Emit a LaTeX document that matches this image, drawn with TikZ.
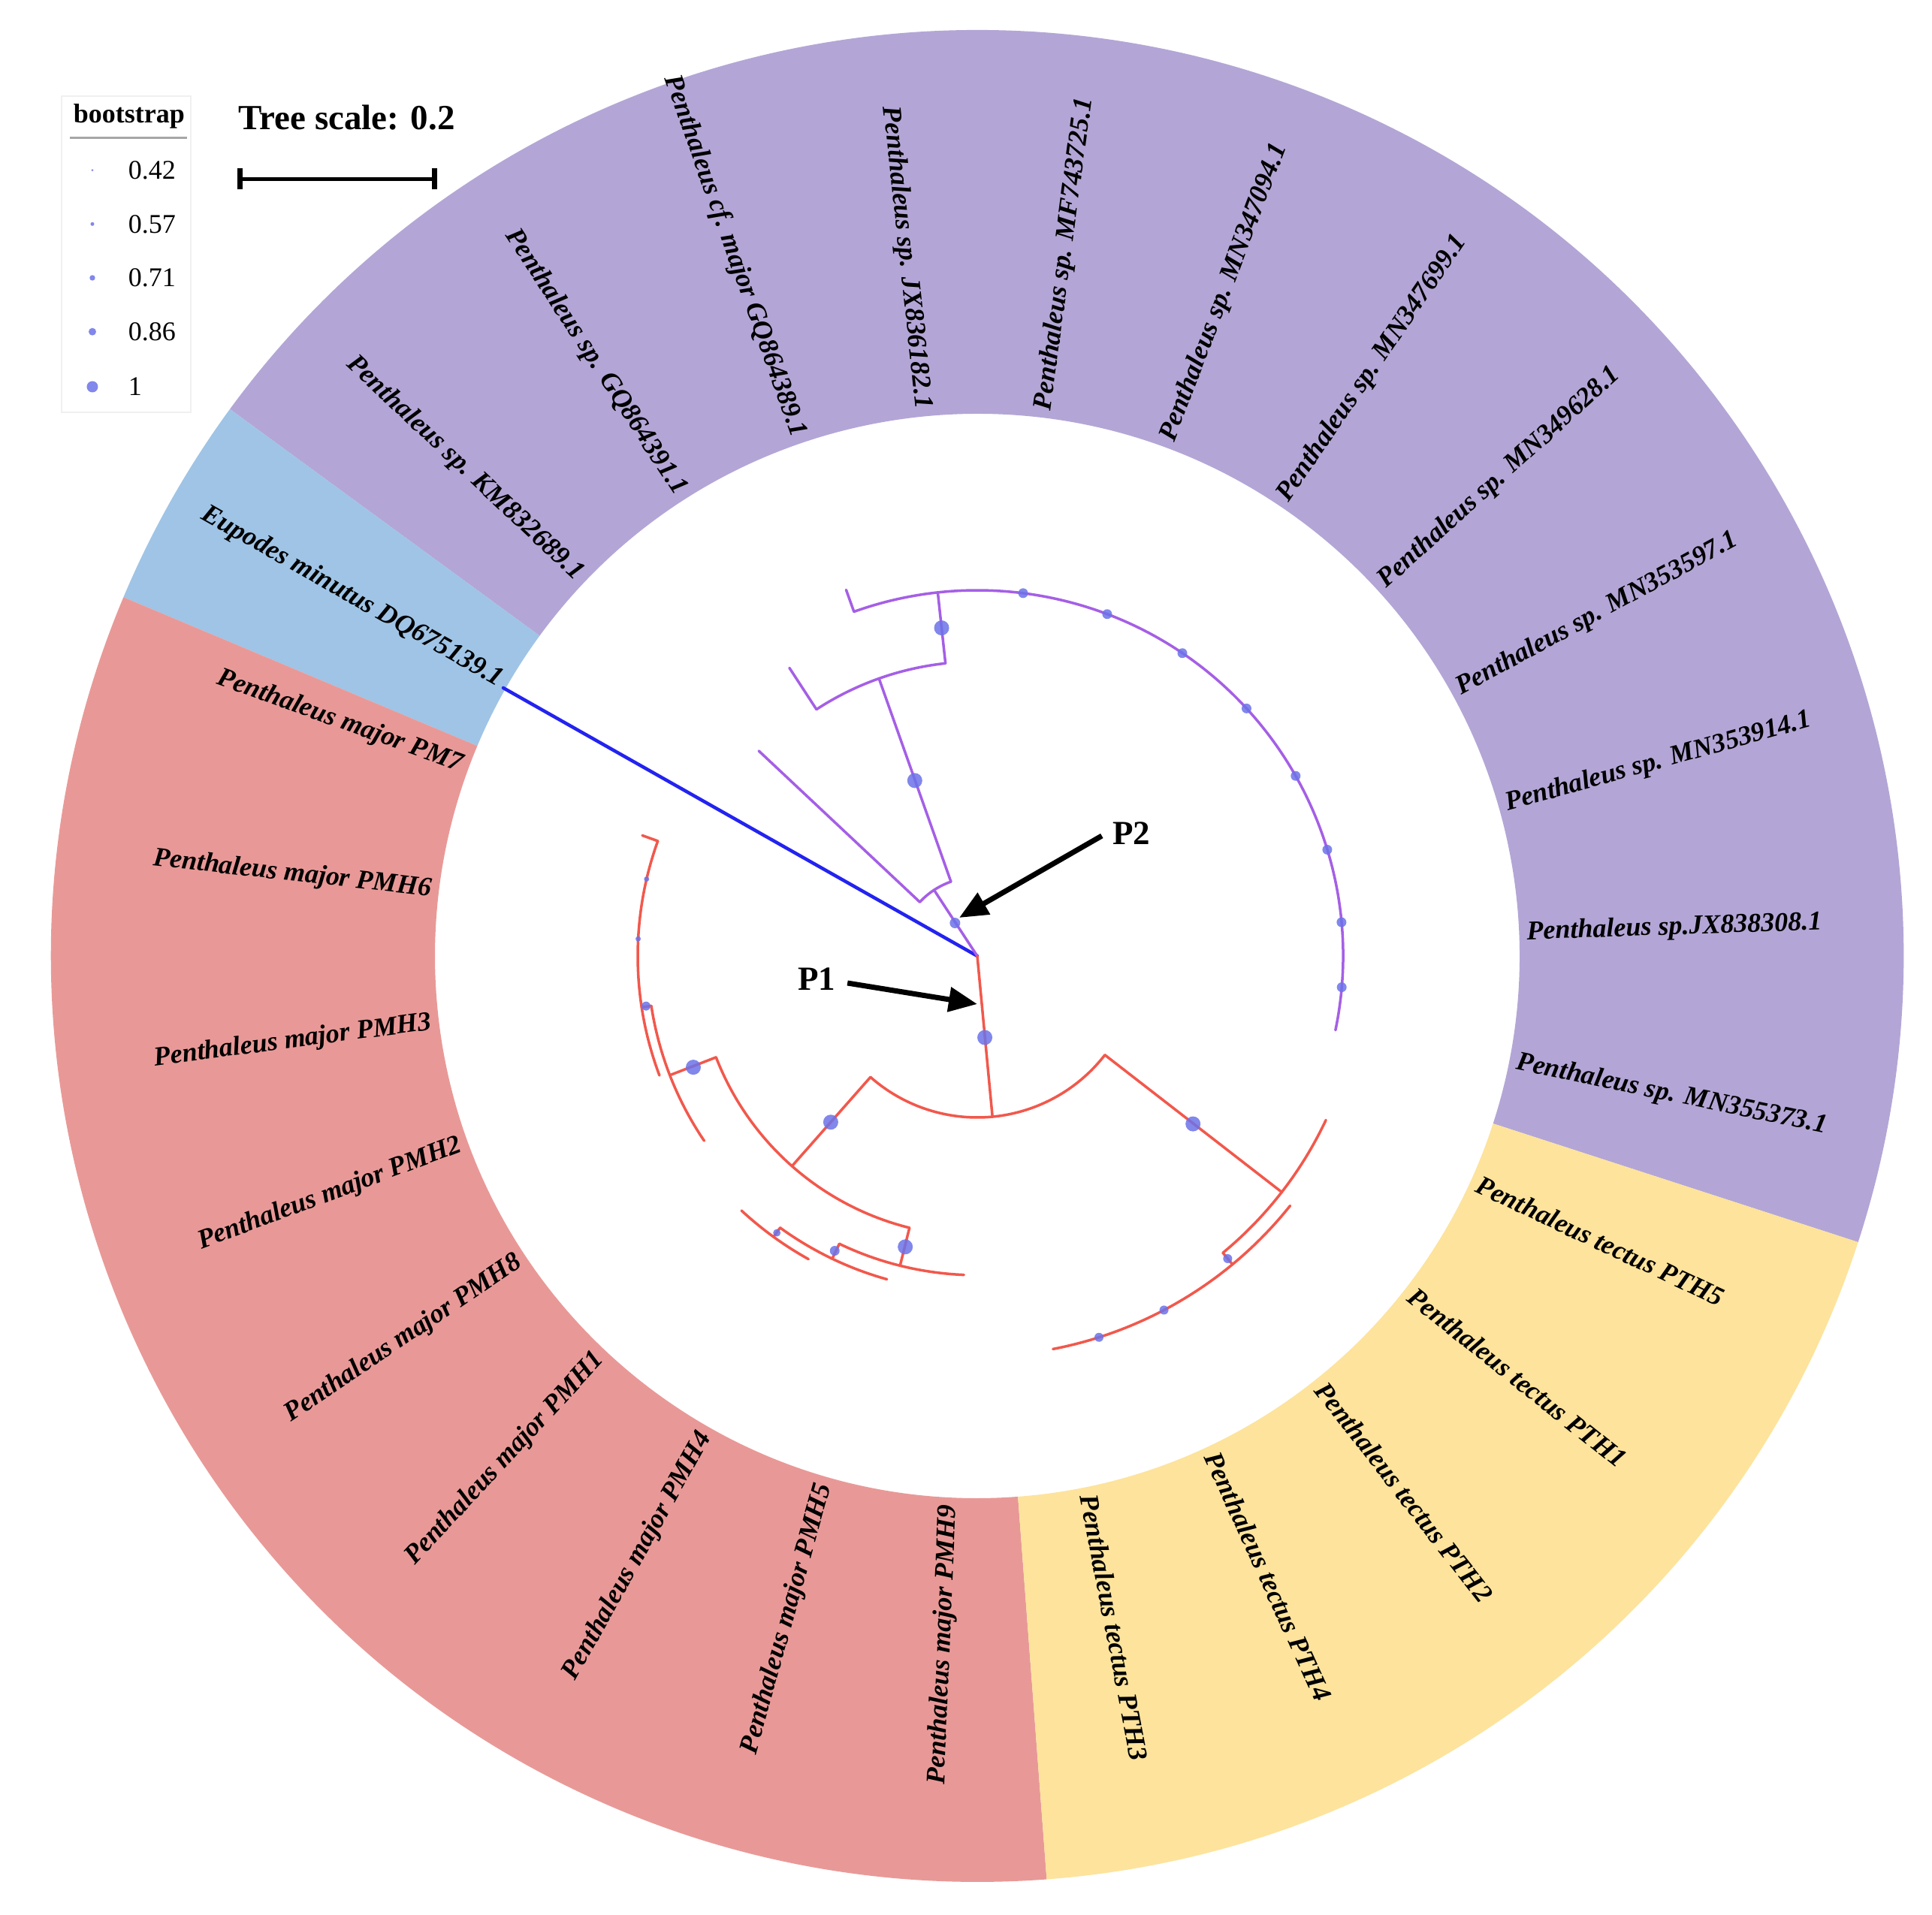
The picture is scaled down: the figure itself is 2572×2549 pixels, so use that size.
\documentclass[tikz,border=0pt]{standalone}
\usepackage{fontspec}
\setmainfont{Liberation Serif}
\usetikzlibrary{arrows.meta}
\definecolor{secP}{RGB}{179,166,214}
\definecolor{secB}{RGB}{159,196,230}
\definecolor{secR}{RGB}{232,153,151}
\definecolor{secY}{RGB}{253,227,156}
\definecolor{lnP}{RGB}{165,95,230}
\definecolor{lnR}{RGB}{242,88,76}
\definecolor{lnB}{RGB}{35,35,240}
\definecolor{dotc}{RGB}{108,114,232}
\newcommand\ringsector[3]{\fill[#1] (#2:722) -- (#2:1233) arc[start angle=#2,end angle=#3,radius=1233pt] -- (#3:722) arc[start angle=#3,end angle=#2,radius=722pt] -- cycle;}
\tikzset{
  lab/.style={font=\fontsize{36}{40}\selectfont\bfseries\itshape, inner sep=0pt},
  trP/.style={draw=lnP, line width=3.5pt, line cap=round},
  trR/.style={draw=lnR, line width=3.5pt, line cap=round},
  trB/.style={draw=lnB, line width=4.5pt, line cap=round},
  bsdot/.style={fill=dotc, fill opacity=0.85, draw=none},
  parrow/.style={line width=7pt, -{Triangle[length=38pt,width=32pt]}},
  ptxt/.style={font=\fontsize{45}{50}\selectfont\bfseries, inner sep=0pt},
  legnum/.style={font=\fontsize{36}{40}\selectfont, inner sep=0pt, anchor=west},
}
\begin{document}
\begin{tikzpicture}[x=1pt,y=1pt]
\useasboundingbox (-1301,-1276) rectangle (1271,1273);
\fill[white] (-1301,-1276) rectangle (1271,1273);
% ring sectors
\ringsector{secP}{-18}{143.8}
\ringsector{secB}{143.8}{157.2}
\ringsector{secR}{157.2}{274.3}
\ringsector{secY}{274.3}{342}
% labels right half
\foreach \a/\t in {
  82.5/{Penthaleus sp. MF743725.1},
  69.2/{Penthaleus sp. MN347094.1},
  55.7/{Penthaleus sp. MN347699.1},
  42.1/{Penthaleus sp. MN349628.1},
  28.5/{Penthaleus sp. MN353597.1},
  15.5/{Penthaleus sp. MN353914.1},
  1.9/{Penthaleus sp.JX838308.1},
  -11.7/{Penthaleus sp. MN355373.1},
  -25.2/{Penthaleus tectus PTH5},
  -38.6/{Penthaleus tectus PTH1},
  -52.1/{Penthaleus tectus PTH2},
  -65.5/{Penthaleus tectus PTH4},
  -79.1/{Penthaleus tectus PTH3}}
  \node[lab, anchor=mid west, rotate=\a] at (\a:732) {\t};
% labels left half
\foreach \a/\t in {
  96.2/{Penthaleus sp. JX836182.1},
  109.5/{Penthaleus cf. major GQ864389.1},
  123.1/{Penthaleus sp. GQ864391.1},
  136.8/{Penthaleus sp. KM832689.1},
  150.5/{Eupodes minutus DQ675139.1},
  160.2/{Penthaleus major PM7},
  173.6/{Penthaleus major PMH6},
  187.5/{Penthaleus major PMH3},
  200.6/{Penthaleus major PMH2},
  214.1/{Penthaleus major PMH8},
  227.2/{Penthaleus major PMH1},
  240.9/{Penthaleus major PMH4},
  254.4/{Penthaleus major PMH5},
  267.6/{Penthaleus major PMH9}}
  \node[lab, anchor=mid east, rotate=\a+180] at (\a:732) {\t};
% tree
\coordinate (root) at (0,0);
\draw[trB] (root) -- (150.5:725);
% purple clade
\draw[trP] (root) -- (123.2:105);
\draw[trP] (109.5:105) arc[start angle=109.5,end angle=136.8,radius=105pt];
\draw[trP] (136.8:105) -- (136.8:399);
\draw[trP] (109.5:105) -- (109.5:392);
\draw[trP] (96.2:392) arc[start angle=96.2,end angle=123.1,radius=392pt];
\draw[trP] (123.1:392) -- (123.1:458);
\draw[trP] (96.2:392) -- (96.2:487);
\draw[trP] (-11.7:487) arc[start angle=-11.7,end angle=109.7,radius=487pt];
\draw[trP] (109.7:487) -- (109.7:518);
% red clade
\draw[trR] (root) -- (275.4:215);
\draw[trR] (228.6:215) arc[start angle=228.6,end angle=322.2,radius=215pt];
\draw[trR] (228.6:215) -- (228.6:373);
\draw[trR] (201.2:373) arc[start angle=201.2,end angle=256,radius=373pt];
\draw[trR] (201.2:373) -- (201.2:439);
\draw[trR] (188.7:439) arc[start angle=188.7,end angle=214.1,radius=439pt];
\draw[trR] (188.7:439) -- (188.7:452);
\draw[trR] (160.2:452) arc[start angle=160.2,end angle=200.6,radius=452pt];
\draw[trR] (160.2:452) -- (160.2:474);
\draw[trR] (256:373) -- (256:425);
\draw[trR] (244.4:425) arc[start angle=244.4,end angle=267.6,radius=425pt];
\draw[trR] (244.4:425) -- (244.4:447);
\draw[trR] (234.05:447) arc[start angle=234.05,end angle=254.4,radius=447pt];
\draw[trR] (234.05:447) -- (234.05:462);
\draw[trR] (227.2:462) arc[start angle=227.2,end angle=240.9,radius=462pt];
\draw[trR] (322.2:215) -- (322.2:513);
\draw[trR] (309.6:513) arc[start angle=309.6,end angle=334.8,radius=513pt];
\draw[trR] (309.6:513) -- (309.6:533);
\draw[trR] (280.9:533) arc[start angle=280.9,end angle=321.4,radius=533pt];
% bootstrap dots
\foreach \a/\r/\s in {124/53/7pt, 109.6/248/10pt, 96.2/439.5/10pt,
  82.8/487/6.5pt, 69.2/487/6.5pt, 55.9/487/6.5pt, 42.6/487/6.5pt,
  29.5/487/6.5pt, 16.9/487/6.5pt, 5.3/487/6.5pt, -4.9/487/6.5pt,
  275.3/109/10pt, 228.6/295/10pt, 201.4/406/10pt, 188.6/446/6pt,
  177.1/452/3.5pt, 166.9/452/3.5pt, 256.1/399/10pt, 244.2/436/6.5pt,
  234.1/455/5pt, 322.1/364/10pt, 309.6/523/6pt, 297.8/533/6pt, 287.7/533/6pt}
  \fill[bsdot] (\a:\r) circle[radius=\s];
% P1 / P2 annotations
\node[ptxt] (P2) at (205,163) {P2};
\node[ptxt] (P1) at (-214,-31) {P1};
\coordinate (p2tip) at (-24,51);
\coordinate (p1tip) at (0,-64);
\draw[parrow] ([xshift=-14pt,yshift=-3pt]P2.west) -- (p2tip);
\draw[parrow] ([xshift=16pt,yshift=-5pt]P1.east) -- (p1tip);
% legend
\draw[gray!12, line width=1.5pt] (-1219,724) rectangle (-1047,1145);
\node[font=\fontsize{36}{40}\selectfont\bfseries, inner sep=0pt] (bs) at (-1129,1118) {bootstrap};
\draw[gray!70, line width=3pt] (-1207.5,1089) -- (-1051.7,1089);
\foreach \y/\s/\v in {1046.3/1.5pt/0.42, 974.7/2.5pt/0.57, 903/3.7pt/0.71, 831.3/5pt/0.86, 758/7.5pt/1}{
  \fill[bsdot] (-1178,\y) circle[radius=\s];
  \node[legnum] at (-1130.4,\y) {\v};
}
\node[font=\fontsize{47}{52}\selectfont\bfseries, inner sep=0pt] (ts) at (-839.3,1116) {Tree scale: 0.2};
\draw[line width=5pt] (-981,1034.7) -- (-722,1034.7);
\draw[line width=7pt] (-981,1020.5) -- (-981,1049);
\draw[line width=7pt] (-722,1020.5) -- (-722,1049);
\end{tikzpicture}
\end{document}
